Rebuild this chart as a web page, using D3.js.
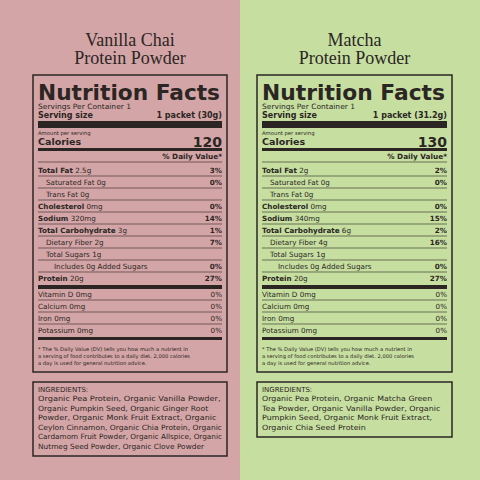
<!DOCTYPE html><html><head><meta charset="utf-8"><script src="https://d3js.org/d3.v7.min.js"></script>
<style>body{margin:0}svg{display:block}</style></head><body><script>
const products=["Vanilla Chai","Matcha"];
const servingSizes=["1 packet (30g)","1 packet (31.2g)"];
const calories=[120,130];
const nutrients=["Total Fat","Saturated Fat","Trans Fat","Cholesterol","Sodium","Total Carbohydrate","Dietary Fiber","Total Sugars","Includes 0g Added Sugars","Protein"];
const indent=[0,1,1,0,0,0,1,1,2,0];
const bold=[1,0,0,1,1,1,0,0,0,1];
const amountsA=["2.5g","0g","0g","0mg","320mg","3g","2g","1g","","20g"];
const amountsB=["2g","0g","0g","0mg","340mg","6g","4g","1g","","20g"];
const dvA=["3%","0%","","0%","14%","1%","7%","","0%","27%"];
const dvB=["2%","0%","","0%","15%","2%","16%","","0%","27%"];
const vitamins=["Vitamin D 0mg","Calcium 0mg","Iron 0mg","Potassium 0mg"];
const vitDV=["0%","0%","0%","0%"];
const ingredientsA=["Organic Pea Protein, Organic Vanilla Powder,","Organic Pumpkin Seed, Organic Ginger Root","Powder, Organic Monk Fruit Extract, Organic","Ceylon Cinnamon, Organic Chia Protein, Organic","Cardamom Fruit Powder, Organic Allspice, Organic","Nutmeg Seed Powder, Organic Clove Powder"];
const ingredientsB=["Organic Pea Protein, Organic Matcha Green","Tea Powder, Organic Vanilla Powder, Organic","Pumpkin Seed, Organic Monk Fruit Extract,","Organic Chia Seed Protein"];
const bgs=["#d4a5a6","#c6dfa0"];
const ink="#2b2624";
const F="'DejaVu Sans', sans-serif";
const svg=d3.select("body").append("svg").attr("width",480).attr("height",480);
const px=d3.scaleBand().domain(products).range([0,480]);
const rowY=d3.scaleLinear().domain([0,1]).range([171,183]);
const vitY=d3.scaleLinear().domain([0,1]).range([295,307]);
const ingY=d3.scaleLinear().domain([0,1]).range([401,410.6]);
products.forEach((p,i)=>{
 const x0=px(p), g=svg.append("g").attr("transform",`translate(${x0},0)`);
 g.append("rect").attr("width",240).attr("height",480).attr("fill",bgs[i]);
 const L=i?257:33, R=i?452:227, W=R-L;
 const t=(x,y,s,o={})=>{const e=g.append("text").attr("x",x).attr("y",y).text(s).attr("font-family",o.f||F).attr("font-size",o.s||8).attr("font-weight",o.b?"bold":"normal").attr("fill",ink).attr("text-anchor",o.a||"start");if(o.tl)e.attr("textLength",o.tl).attr("lengthAdjust","spacingAndGlyphs");return e;};
 const bar=(y,h)=>g.append("rect").attr("x",L+5-x0).attr("y",y).attr("width",W-10).attr("height",h).attr("fill",ink);
 const line=(y)=>g.append("line").attr("x1",L+5-x0).attr("x2",R-5-x0).attr("y1",y).attr("y2",y).attr("stroke",ink).attr("stroke-width",0.6);
 const l=L+5-x0, r=R-5-x0, c=(L+R)/2-x0;
 t(c,46,p,{f:"'Liberation Serif',serif",s:18,a:"middle"});
 t(c,64,"Protein Powder",{f:"'Liberation Serif',serif",s:18,a:"middle"});
 g.append("rect").attr("x",L-x0).attr("y",75).attr("width",W).attr("height",297).attr("fill","none").attr("stroke",ink).attr("stroke-width",1.5);
 t(l,100,"Nutrition Facts",{s:22,b:1,tl:W-12});
 t(l,109,"Servings Per Container 1",{s:7.3,tl:93});
 t(l,118,"Serving size",{s:8,b:1});t(r,118,servingSizes[i],{s:8,b:1,a:"end"});
 bar(121,7);
 t(l,135,"Amount per serving",{s:5.3});
 t(l,145,"Calories",{s:9.5,b:1});t(r,147,calories[i],{s:14,b:1,a:"end"});
 bar(148,3);
 t(r,159,"% Daily Value*",{s:7.3,b:1,a:"end"});
 line(162);
 nutrients.forEach((n,k)=>{
  const y=rowY(k)+2, am=(i?amountsB:amountsA)[k], dv=(i?dvB:dvA)[k];
  const tx=t(l+indent[k]*8,y,null,{s:7.2});
  tx.append("tspan").attr("font-weight",bold[k]?"bold":"normal").text(n);
  if(am)tx.append("tspan").text(" "+am);
  if(dv)t(r,y,dv,{s:7.2,b:1,a:"end"});
  if(k<nutrients.length-1)line(rowY(k)+5);
 });
 bar(285,4);
 vitamins.forEach((v,k)=>{const y=vitY(k)+2;t(l,y,v,{s:7.2});t(r,y,vitDV[k],{s:7.2,a:"end"});if(k<3)line(vitY(k)+5);});
 bar(337,3);
 ["* The % Daily Value (DV) tells you how much a nutrient in","a serving of food contributes to a daily diet. 2,000 calories","a day is used for general nutrition advice."].forEach((s,k)=>t(l,351+k*7,s,{s:5.2}));
 const ing=i?ingredientsB:ingredientsA;
 g.append("rect").attr("x",L-x0).attr("y",382).attr("width",W).attr("height",i?55:74).attr("fill","none").attr("stroke",ink).attr("stroke-width",1.5);
 t(l,392,"INGREDIENTS:",{s:7});
 ing.forEach((s,k)=>t(l,ingY(k),s,{s:7.2,tl:Math.min(W-10,s.length*4.15)}));
});
</script></body></html>
